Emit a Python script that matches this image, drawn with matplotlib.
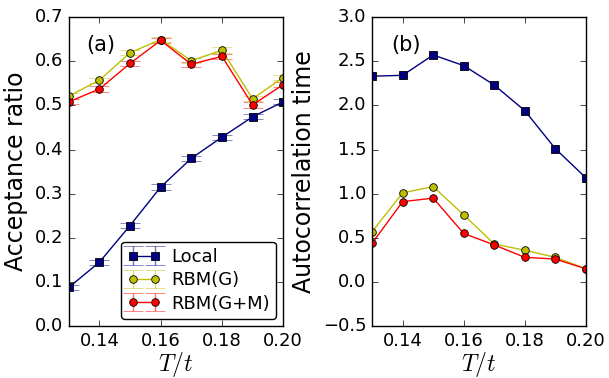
import matplotlib
matplotlib.use("Agg")
import matplotlib.pyplot as plt

T = [0.13, 0.14, 0.15, 0.16, 0.17, 0.18, 0.19, 0.20]

# acceptance ratio
acc_local = [0.088, 0.145, 0.228, 0.315, 0.380, 0.428, 0.474, 0.508]
acc_rbm_g = [0.521, 0.557, 0.619, 0.649, 0.601, 0.625, 0.515, 0.563]
acc_rbm_gm = [0.508, 0.537, 0.595, 0.647, 0.593, 0.611, 0.501, 0.547]
acc_err = [0.006, 0.006, 0.006, 0.006, 0.006, 0.006, 0.006, 0.006]

# autocorrelation time
tau_local = [2.33, 2.34, 2.57, 2.45, 2.23, 1.94, 1.51, 1.18]
tau_rbm_g = [0.57, 1.01, 1.08, 0.76, 0.43, 0.36, 0.28, 0.15]
tau_rbm_gm = [0.44, 0.91, 0.95, 0.55, 0.42, 0.28, 0.26, 0.15]

labels = ["Local", "RBM(G)", "RBM(G+M)"]
colors = ["#000080", (0.75, 0.75, 0.0), "#ff0000"]
markers = ["s", "o", "o"]

plt.style.use("classic")
plt.rcParams["font.family"] = "DejaVu Sans"
plt.rcParams["mathtext.fontset"] = "cm"

fig = plt.figure(figsize=(6.09, 3.78), dpi=100, facecolor="white")
ax1 = fig.add_axes([0.113, 0.137, 0.352, 0.818])
ax2 = fig.add_axes([0.611, 0.137, 0.351, 0.818])

for ys, lab, c, m in zip([acc_local, acc_rbm_g, acc_rbm_gm], labels, colors, markers):
    ecol = matplotlib.colors.to_rgba(c, 0.55)
    ax1.errorbar(T, ys, yerr=acc_err, color=c, ecolor=ecol, marker=m,
                 markersize=6 if m == "s" else 5.5, markeredgecolor="k",
                 markeredgewidth=0.6, capsize=7, capthick=1.5, elinewidth=1,
                 lw=1, label=lab)

for ys, c, m in zip([tau_local, tau_rbm_g, tau_rbm_gm], colors, markers):
    ax2.plot(T, ys, color=c, marker=m, markersize=6 if m == "s" else 5.5,
             markeredgecolor="k", markeredgewidth=0.6, lw=1)

ax1.set_xlim(0.13, 0.20)
ax1.set_ylim(0.0, 0.7)
ax2.set_xlim(0.13, 0.20)
ax2.set_ylim(-0.5, 3.0)
xt = [0.14, 0.16, 0.18, 0.20]
for ax in (ax1, ax2):
    ax.set_xticks(xt)
    ax.set_xticklabels(["0.14", "0.16", "0.18", "0.20"])
    ax.tick_params(labelsize=13)
    ax.set_xlabel("$T/t$", fontsize=17, labelpad=0)
ax1.set_yticks([0.0, 0.1, 0.2, 0.3, 0.4, 0.5, 0.6, 0.7])
ax2.set_yticks([-0.5, 0.0, 0.5, 1.0, 1.5, 2.0, 2.5, 3.0])
ax1.set_ylabel("Acceptance ratio", fontsize=17)
ax2.set_ylabel("Autocorrelation time", fontsize=17)
ax1.text(0.15, 0.91, "(a)", transform=ax1.transAxes, fontsize=15, ha="center", va="center")
ax2.text(0.157, 0.91, "(b)", transform=ax2.transAxes, fontsize=15, ha="center", va="center")

ax1.legend(loc="lower right", numpoints=2, fontsize=13, borderaxespad=0.4,
           borderpad=0.35, handlelength=1.8, handletextpad=0.6,
           labelspacing=0.3, fancybox=True)

fig.savefig("out.png", dpi=100, facecolor="white")
